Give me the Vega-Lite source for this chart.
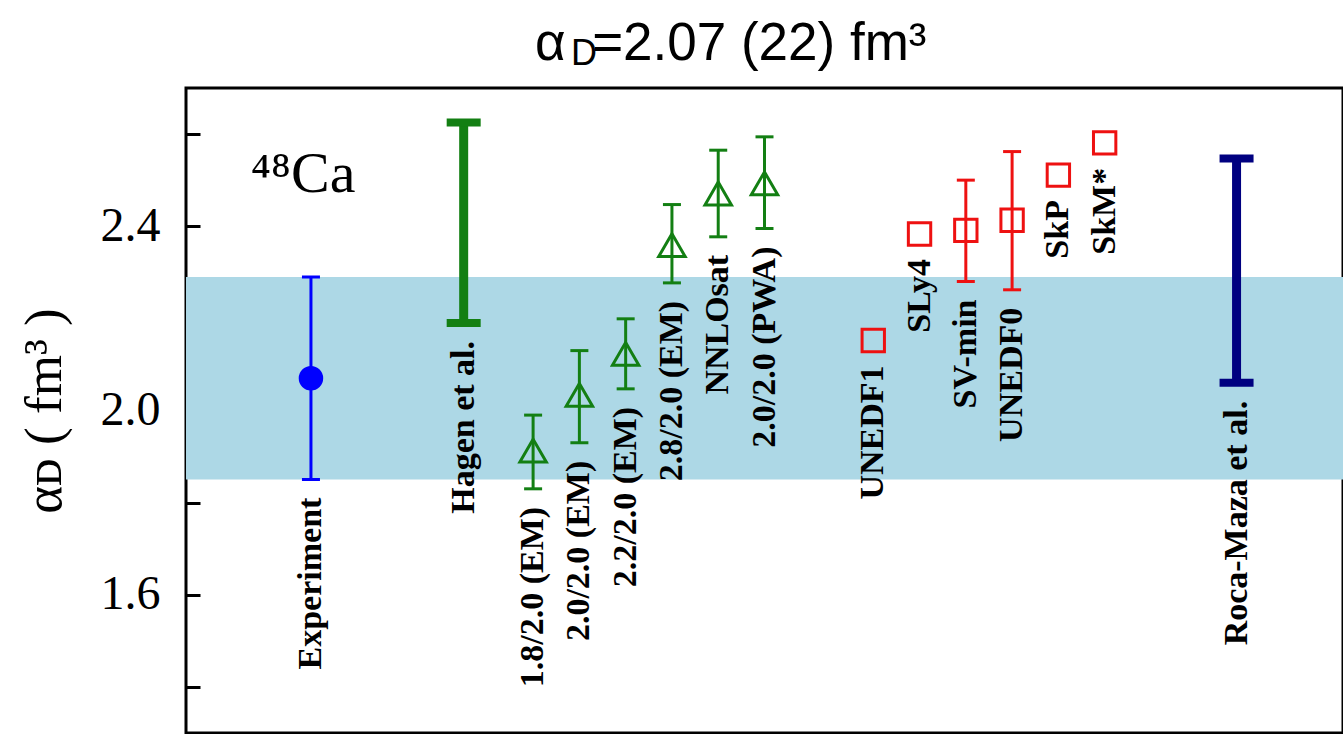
{
  "$schema": "https://vega.github.io/schema/vega-lite/v6.json",
  "autosize": "none",
  "width": 1157,
  "height": 645,
  "padding": {"left": 186, "top": 88, "right": 0, "bottom": 1},
  "background": "white",
  "config": {
    "view": {"stroke": "#000000", "strokeWidth": 3},
    "font": "Liberation Serif",
    "tick": {"opacity": 1},
    "point": {"opacity": 1},
    "circle": {"opacity": 1}
  },
  "title": {
    "text": "α\u2002=2.07 (22) fm³",
    "subtitle": "\u200b\u2002\u2002D",
    "anchor": "start",
    "frame": "group",
    "dx": 349,
    "offset": 16,
    "font": "Liberation Sans",
    "fontSize": 53,
    "fontWeight": "normal",
    "color": "#000000",
    "subtitleFont": "Liberation Sans",
    "subtitleFontSize": 36,
    "subtitleColor": "#000000",
    "subtitlePadding": -34
  },
  "datasets": {
    "models": [
      {"name": "Experiment", "kind": "experiment", "x": 2.7, "value": 2.07, "lo": 1.85, "hi": 2.29},
      {"name": "Hagen et al.", "kind": "hagen", "x": 6.0, "value": null, "lo": 2.19, "hi": 2.625},
      {"name": "1.8/2.0 (EM)", "kind": "chiral", "x": 7.5, "value": 1.913, "lo": 1.83, "hi": 1.99},
      {"name": "2.0/2.0 (EM)", "kind": "chiral", "x": 8.5, "value": 2.034, "lo": 1.93, "hi": 2.13},
      {"name": "2.2/2.0 (EM)", "kind": "chiral", "x": 9.5, "value": 2.123, "lo": 2.047, "hi": 2.199},
      {"name": "2.8/2.0 (EM)", "kind": "chiral", "x": 10.5, "value": 2.359, "lo": 2.277, "hi": 2.447},
      {"name": "NNLOsat", "kind": "chiral", "x": 11.5, "value": 2.471, "lo": 2.377, "hi": 2.565},
      {"name": "2.0/2.0 (PWA)", "kind": "chiral", "x": 12.5, "value": 2.493, "lo": 2.395, "hi": 2.594},
      {"name": "UNEDF1", "kind": "skyrme", "x": 14.85, "value": 2.152, "lo": null, "hi": null},
      {"name": "SLy4", "kind": "skyrme", "x": 15.85, "value": 2.383, "lo": null, "hi": null},
      {"name": "SV-min", "kind": "skyrme", "x": 16.85, "value": 2.391, "lo": 2.28, "hi": 2.5},
      {"name": "UNEDF0", "kind": "skyrme", "x": 17.85, "value": 2.413, "lo": 2.262, "hi": 2.562},
      {"name": "SkP", "kind": "skyrme", "x": 18.85, "value": 2.511, "lo": null, "hi": null},
      {"name": "SkM*", "kind": "skyrme", "x": 19.85, "value": 2.581, "lo": null, "hi": null},
      {"name": "Roca-Maza et al.", "kind": "roca", "x": 22.7, "value": null, "lo": 2.06, "hi": 2.547}
    ]
  },
  "data": {"name": "models"},
  "resolve": {"axis": {"y": "independent"}},
  "encoding": {
    "x": {"field": "x", "type": "quantitative", "scale": {"domain": [0, 25]}, "axis": null}
  },
  "layer": [
    {
      "transform": [{"filter": "datum.kind === 'experiment'"}],
      "mark": {"type": "rect", "color": "#add8e6"},
      "encoding": {
        "x": {"value": 0},
        "x2": {"value": "width"},
        "y": {
          "field": "lo",
          "type": "quantitative",
          "scale": {"domain": [1.3, 2.7], "nice": false, "zero": false},
          "title": "αᴅ   ( fm³ )",
          "axis": {
            "orient": "left",
            "offset": 0,
            "values": [1.4, 1.6, 1.8, 2.0, 2.2, 2.4, 2.6],
            "format": ".1f",
            "labelExpr": "round(datum.value * 10) % 4 === 0 ? datum.label : ''",
            "domain": false,
            "grid": false,
            "tickColor": "#000000",
            "tickWidth": 3,
            "tickSize": -14,
            "labelFont": "Liberation Serif",
            "labelFontSize": 48,
            "labelColor": "#000000",
            "labelPadding": 40,
            "titleFont": "Liberation Serif",
            "titleFontSize": 53,
            "titleFontWeight": "normal",
            "titleColor": "#000000",
            "titlePadding": 29
          }
        },
        "y2": {"field": "hi"}
      }
    },
    {
      "transform": [{"filter": "isValid(datum.lo) && datum.kind !== 'hagen' && datum.kind !== 'roca'"}],
      "mark": {"type": "rule", "strokeWidth": 3},
      "encoding": {
        "y": {"field": "lo", "type": "quantitative", "axis": null},
        "y2": {"field": "hi"},
        "color": {"field": "kind", "type": "nominal", "legend": null,
          "scale": {"domain": ["experiment", "hagen", "chiral", "skyrme", "roca"], "range": ["#0000ff", "#137f13", "#137f13", "#ee1111", "#000080"]}}
      }
    },
    {
      "transform": [
        {"filter": "isValid(datum.lo) && datum.kind !== 'hagen' && datum.kind !== 'roca'"},
        {"fold": ["lo", "hi"], "as": ["end", "level"]}
      ],
      "mark": {"type": "tick", "orient": "horizontal", "size": 18, "thickness": 3},
      "encoding": {
        "y": {"field": "level", "type": "quantitative", "axis": null},
        "color": {"field": "kind", "type": "nominal", "legend": null}
      }
    },
    {
      "transform": [{"filter": "datum.kind === 'hagen' || datum.kind === 'roca'"}],
      "mark": {"type": "rule", "strokeWidth": 9},
      "encoding": {
        "y": {"field": "lo", "type": "quantitative", "axis": null},
        "y2": {"field": "hi"},
        "color": {"field": "kind", "type": "nominal", "legend": null}
      }
    },
    {
      "transform": [
        {"filter": "datum.kind === 'hagen' || datum.kind === 'roca'"},
        {"fold": ["lo", "hi"], "as": ["end", "level"]}
      ],
      "mark": {"type": "tick", "orient": "horizontal", "size": 34, "thickness": 8},
      "encoding": {
        "y": {"field": "level", "type": "quantitative", "axis": null},
        "color": {"field": "kind", "type": "nominal", "legend": null}
      }
    },
    {
      "transform": [{"filter": "datum.kind === 'experiment'"}],
      "mark": {"type": "circle", "size": 600},
      "encoding": {
        "y": {"field": "value", "type": "quantitative", "axis": null},
        "color": {"field": "kind", "type": "nominal", "legend": null}
      }
    },
    {
      "transform": [{"filter": "datum.kind === 'chiral'"}],
      "mark": {"type": "point", "shape": "triangle-up", "filled": false, "size": 700, "strokeWidth": 3},
      "encoding": {
        "y": {"field": "value", "type": "quantitative", "axis": null},
        "color": {"field": "kind", "type": "nominal", "legend": null}
      }
    },
    {
      "transform": [{"filter": "datum.kind === 'skyrme'"}],
      "mark": {"type": "point", "shape": "square", "filled": false, "size": 500, "strokeWidth": 3},
      "encoding": {
        "y": {"field": "value", "type": "quantitative", "axis": null},
        "color": {"field": "kind", "type": "nominal", "legend": null}
      }
    },
    {
      "transform": [{"filter": "isValid(datum.lo)"}],
      "mark": {"type": "text", "angle": 270, "align": "right", "baseline": "middle", "dx": -18,
               "font": "Liberation Serif", "fontWeight": "bold", "fontSize": 34, "color": "#000000"},
      "encoding": {
        "y": {"field": "lo", "type": "quantitative", "axis": null},
        "text": {"field": "name"}
      }
    },
    {
      "transform": [{"filter": "!isValid(datum.lo)"}],
      "mark": {"type": "text", "angle": 270, "align": "right", "baseline": "middle", "dx": -25,
               "font": "Liberation Serif", "fontWeight": "bold", "fontSize": 34, "color": "#000000"},
      "encoding": {
        "y": {"field": "value", "type": "quantitative", "axis": null},
        "text": {"field": "name"}
      }
    },
    {
      "transform": [{"filter": "datum.kind === 'experiment'"}],
      "mark": {"type": "text", "text": "⁴⁸Ca", "font": "Liberation Serif", "fontSize": 58,
               "align": "center", "baseline": "alphabetic", "color": "#000000"},
      "encoding": {
        "x": {"datum": 2.53},
        "y": {"datum": 2.475, "type": "quantitative", "axis": null}
      }
    }
  ]
}
